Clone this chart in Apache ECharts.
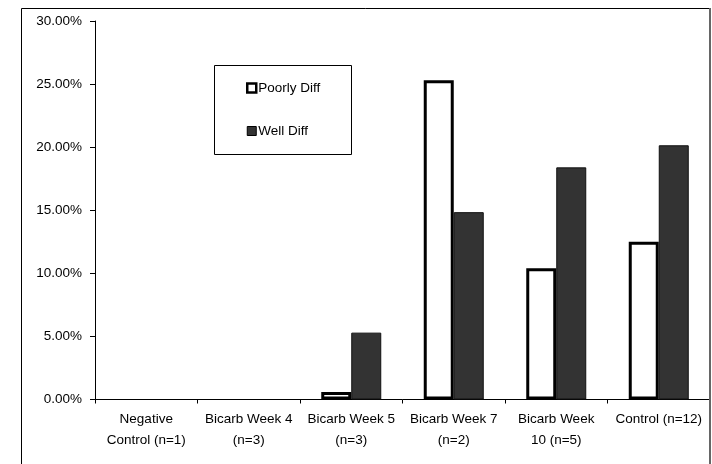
<!DOCTYPE html>
<html>
<head>
<meta charset="utf-8">
<script src="https://cdn.jsdelivr.net/npm/echarts@6/dist/echarts.min.js"></script>
<style>
  html, body { margin: 0; padding: 0; background: #fff; }
  #chart { width: 712px; height: 464px; }
</style>
</head>
<body>
<div id="chart"></div>
<script>
// Share of tumours by differentiation grade, per treatment group (percent)
const categories = [
  'Negative\nControl (n=1)',
  'Bicarb Week 4\n(n=3)',
  'Bicarb Week 5\n(n=3)',
  'Bicarb Week 7\n(n=2)',
  'Bicarb Week\n10 (n=5)',
  'Control (n=12)'
];
const poorlyDiff = [0, 0, 0.6, 25.3, 10.4, 12.5];
const wellDiff = [0, 0, 5.3, 14.85, 18.4, 20.15];
const yTicks = [0, 5, 10, 15, 20, 25, 30];

const FONT = '"Liberation Sans", Arial, sans-serif';
const FS = 13.5;

// Zero-height bars carry no outline
function barData(values) {
  return values.map(v => v === 0 ? { value: 0, itemStyle: { borderWidth: 0 } } : v);
}

const chart = echarts.init(document.getElementById('chart'), null, { renderer: 'canvas' });

chart.setOption({
  backgroundColor: '#ffffff',
  animation: false,
  textStyle: { fontFamily: FONT },
  graphic: [
    // chart area frame
    { type: 'line', shape: { x1: 21.5, y1: 8.5, x2: 710, y2: 8.5 }, style: { stroke: '#000', lineWidth: 1 }, z: 1 },
    { type: 'line', shape: { x1: 21.5, y1: 8.5, x2: 21.5, y2: 464 }, style: { stroke: '#000', lineWidth: 1 }, z: 1 },
    { type: 'line', shape: { x1: 710, y1: 8, x2: 710, y2: 464 }, style: { stroke: '#666', lineWidth: 2 }, z: 1 },
    // legend box
    { type: 'rect', shape: { x: 214.5, y: 65.5, width: 137, height: 89 }, style: { fill: '#fff', stroke: '#000', lineWidth: 1 }, z: 5 }
  ],
  legend: {
    orient: 'vertical',
    left: 241,
    top: 76,
    itemWidth: 9,
    itemHeight: 9,
    itemGap: 29,
    padding: 5,
    z: 10,
    textStyle: { fontFamily: FONT, fontSize: FS, color: '#000', padding: [0, 0, 0, -3] },
    data: [
      { name: 'Poorly Diff', icon: 'rect', itemStyle: { color: '#fff', borderColor: '#000', borderWidth: 2.5 } },
      { name: 'Well Diff', icon: 'rect', itemStyle: { color: '#333', borderColor: '#000', borderWidth: 1 } }
    ]
  },
  grid: { left: 95, right: 2, top: 21, bottom: 64.5, containLabel: false },
  xAxis: {
    type: 'category',
    data: categories,
    axisLine: { lineStyle: { color: '#000', width: 1 } },
    axisTick: { show: true, alignWithLabel: false, length: 4, lineStyle: { color: '#000' } },
    axisLabel: {
      fontFamily: FONT, fontSize: FS, color: '#000', lineHeight: 21,
      margin: 9, interval: 0, align: 'center'
    },
    splitLine: { show: false }
  },
  yAxis: {
    type: 'value',
    min: yTicks[0],
    max: yTicks[yTicks.length - 1],
    interval: yTicks[1] - yTicks[0],
    axisLine: { show: true, lineStyle: { color: '#000', width: 1 } },
    axisTick: { show: true, length: 5, lineStyle: { color: '#000' } },
    axisLabel: {
      fontFamily: FONT, fontSize: FS, color: '#000', margin: 13,
      formatter: v => v.toFixed(2) + '%'
    },
    splitLine: { show: false }
  },
  series: [
    {
      name: 'Poorly Diff',
      type: 'bar',
      data: barData(poorlyDiff),
      barWidth: 30,
      barGap: '0%',
      itemStyle: { color: '#fff', borderColor: '#000', borderWidth: 3 },
      z: 3
    },
    {
      name: 'Well Diff',
      type: 'bar',
      data: barData(wellDiff),
      barWidth: 30,
      barGap: '0%',
      itemStyle: { color: '#333', borderColor: '#111', borderWidth: 1 },
      z: 2
    }
  ]
});
</script>
</body>
</html>
